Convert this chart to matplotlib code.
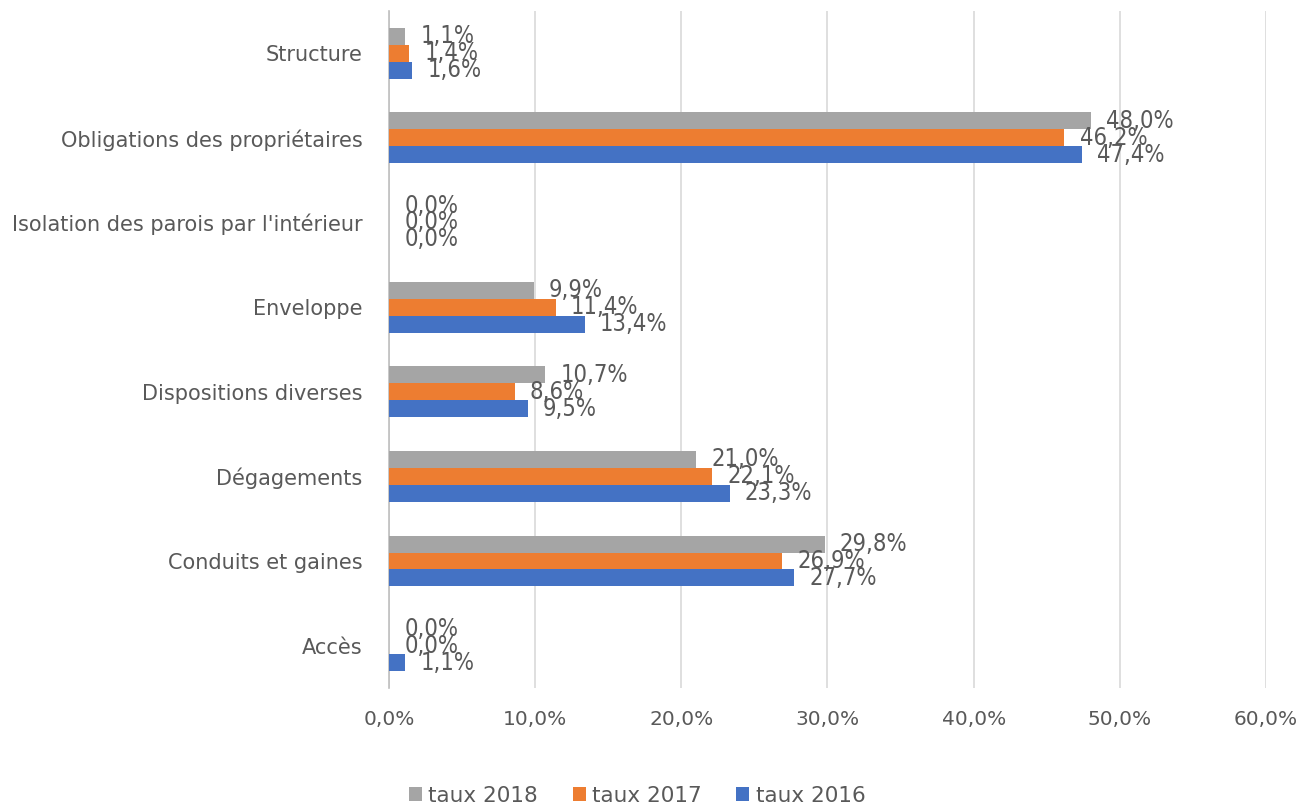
import numpy as np
import matplotlib.pyplot as plt
from matplotlib.ticker import FuncFormatter

# categories listed bottom to top
categories = ["Accès", "Conduits et gaines", "Dégagements", "Dispositions diverses",
              "Enveloppe", "Isolation des parois par l'intérieur",
              "Obligations des propriétaires", "Structure"]
taux_2018 = [0.0, 29.8, 21.0, 10.7, 9.9, 0.0, 48.0, 1.1]
taux_2017 = [0.0, 26.9, 22.1, 8.6, 11.4, 0.0, 46.2, 1.4]
taux_2016 = [1.1, 27.7, 23.3, 9.5, 13.4, 0.0, 47.4, 1.6]

series = [("taux 2018", taux_2018, "#A5A5A5", 0.2),
          ("taux 2017", taux_2017, "#ED7D31", 0.0),
          ("taux 2016", taux_2016, "#4472C4", -0.2)]

def fr_pct(v):
    return f"{v:.1f}%".replace(".", ",")

fig = plt.figure(figsize=(13.03, 8.07), dpi=100)
ax = fig.add_axes([0.2985, 0.1475, 0.6731, 0.839])

y = np.arange(len(categories))
text_col = "#595959"

for name, vals, col, off in series:
    ax.barh(y + off, vals, height=0.2, color=col, label=name, zorder=3)
    for yi, v in zip(y, vals):
        ax.annotate(fr_pct(v), (v, yi + off), xytext=(11, 0), textcoords="offset points",
                    va="center", ha="left", fontsize=17, color=text_col,
                    fontstretch="condensed", zorder=4)

ax.set_xlim(0, 60)
ax.set_ylim(-0.5, len(categories) - 0.5)
ax.set_xticks(np.arange(0, 61, 10))
ax.xaxis.set_major_formatter(FuncFormatter(lambda v, p: fr_pct(v)))
ax.set_yticks(y)
ax.set_yticklabels(categories)
ax.tick_params(axis="both", length=0, colors=text_col)
ax.tick_params(axis="x", pad=16, labelsize=14.5)
ax.tick_params(axis="y", pad=19, labelsize=15)

ax.grid(axis="x", color="#D9D9D9", linewidth=1.2, zorder=0)
for s in ["top", "right", "bottom"]:
    ax.spines[s].set_visible(False)
ax.spines["left"].set_color("#BFBFBF")
ax.spines["left"].set_linewidth(1.2)

handles, labels = ax.get_legend_handles_labels()
fig.legend(handles, labels, loc="center", bbox_to_anchor=(0.489, 0.014), ncol=3,
           frameon=False, fontsize=15.5, handlelength=0.6, handleheight=0.6,
           handletextpad=0.3, columnspacing=1.6, labelcolor=text_col,
           borderpad=0)

fig.savefig("out.png", dpi=100)
